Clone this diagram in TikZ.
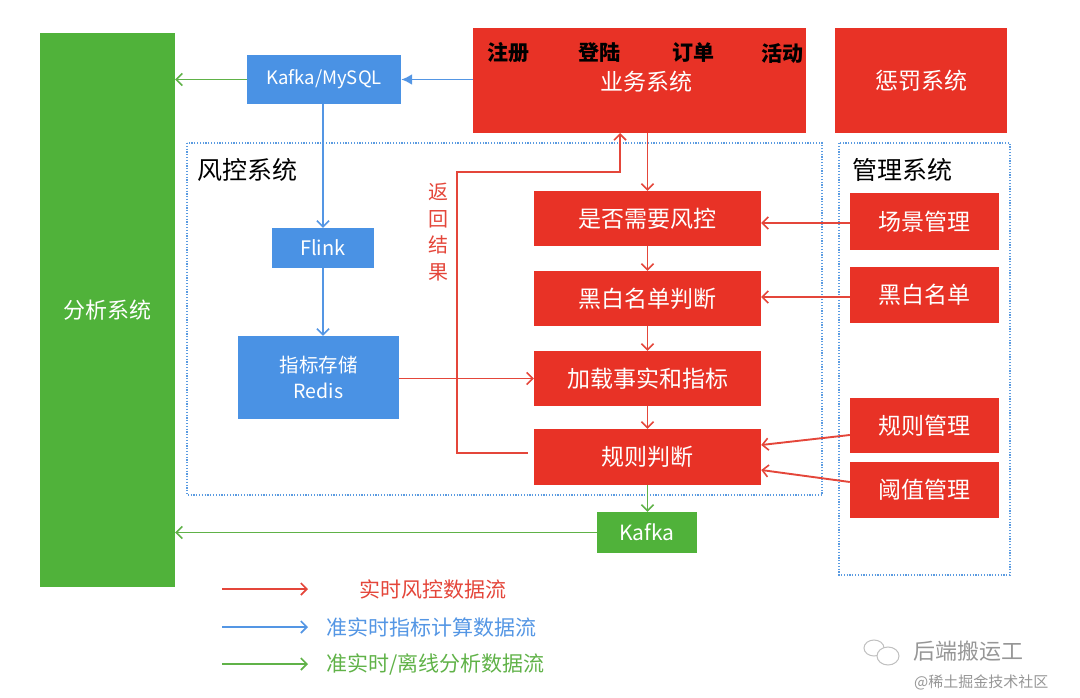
\documentclass[tikz,border=0pt]{standalone}
\usepackage{fontspec}
\setmainfont{Noto Sans CJK SC}
\usetikzlibrary{arrows.meta}
\definecolor{cred}{RGB}{232,50,38}
\definecolor{cblue}{RGB}{74,146,228}
\definecolor{cgreen}{RGB}{80,178,58}
\definecolor{lred}{RGB}{228,70,58}
\definecolor{lblue}{RGB}{84,150,228}
\definecolor{lgreen}{RGB}{96,178,72}
\definecolor{dotblue}{RGB}{90,155,225}
\definecolor{wm}{RGB}{150,150,150}
\tikzset{
  box/.style={inner sep=0pt, text=white, align=center},
  redbox/.style={box, fill=cred},
  bluebox/.style={box, fill=cblue},
  greenbox/.style={box, fill=cgreen},
  tip/.style={-{Straight Barb[length=6pt,width=12pt,line width=1.6pt]}},
  rarrow/.style={tip, draw=lred, line width=1.9pt},
  barrow/.style={tip, draw=lblue, line width=1.9pt},
  garrow/.style={tip, draw=lgreen, line width=1.9pt},
  dotframe/.style={draw=dotblue, line width=1.4pt, dash pattern=on 1.2pt off 1.6pt},
  legendtxt/.style={anchor=west, font=\fontsize{21}{24}\selectfont, inner sep=0pt},
}
\begin{document}
\begin{tikzpicture}[x=1pt,y=-1pt]
\useasboundingbox (0,0) rectangle (1080,698);
% frames
\draw[dotframe] (187,143) rectangle (822,495);
\draw[dotframe] (839,143) rectangle (1010,575);
\node[anchor=west, inner sep=0pt, font=\fontsize{25}{28}\selectfont] (fktitle) at (197,170) {风控系统};
\node[anchor=west, inner sep=0pt, font=\fontsize{25}{28}\selectfont] (gltitle) at (852,170) {管理系统};
% boxes
\node[greenbox, minimum width=135pt, minimum height=554pt, font=\fontsize{22}{24}\selectfont] (ana) at (107.5,310) {分析系统};
\node[bluebox, minimum width=154pt, minimum height=49pt, font=\fontsize{18.5}{20}\selectfont] (kmq) at (324,79.5) {Kafka/MySQL};
\node[redbox, minimum width=333pt, minimum height=105pt] (biz) at (639.5,80.5) {};
\node[font=\bfseries\fontsize{21}{24}\selectfont, inner sep=0pt] (t1) at (508,53) {注册};
\node[font=\bfseries\fontsize{21}{24}\selectfont, inner sep=0pt] (t2) at (599,53) {登陆};
\node[font=\bfseries\fontsize{21}{24}\selectfont, inner sep=0pt] (t3) at (693,53) {订单};
\node[font=\bfseries\fontsize{21}{24}\selectfont, inner sep=0pt] (t4) at (782,53) {活动};
\node[text=white, font=\fontsize{23}{26}\selectfont, inner sep=0pt] (bizt) at (646,82) {业务系统};
\node[redbox, minimum width=172pt, minimum height=105pt, font=\fontsize{23}{26}\selectfont] (pun) at (921,80.5) {惩罚系统};
\node[bluebox, minimum width=102pt, minimum height=40pt, font=\fontsize{20}{22}\selectfont] (flink) at (323,248) {Flink};
\node[bluebox, minimum width=161pt, minimum height=83pt, font=\fontsize{19.5}{26}\selectfont] (redis) at (318.5,377.5) {指标存储\\Redis};
\node[redbox, minimum width=227pt, minimum height=55pt, font=\fontsize{23}{26}\selectfont] (r1) at (647.5,218.5) {是否需要风控};
\node[redbox, minimum width=227pt, minimum height=55pt, font=\fontsize{23}{26}\selectfont] (r2) at (647.5,298.5) {黑白名单判断};
\node[redbox, minimum width=227pt, minimum height=55pt, font=\fontsize{23}{26}\selectfont] (r3) at (647.5,378.5) {加载事实和指标};
\node[redbox, minimum width=227pt, minimum height=56pt, font=\fontsize{23}{26}\selectfont] (r4) at (647.5,457) {规则判断};
\node[redbox, minimum width=149pt, minimum height=57pt, font=\fontsize{23}{26}\selectfont] (m1) at (924.5,221.5) {场景管理};
\node[redbox, minimum width=149pt, minimum height=56pt, font=\fontsize{23}{26}\selectfont] (m2) at (924.5,295) {黑白名单};
\node[redbox, minimum width=149pt, minimum height=55pt, font=\fontsize{23}{26}\selectfont] (m3) at (924.5,425.5) {规则管理};
\node[redbox, minimum width=149pt, minimum height=56pt, font=\fontsize{23}{26}\selectfont] (m4) at (924.5,490) {阈值管理};
\node[greenbox, minimum width=100pt, minimum height=41pt, font=\fontsize{21}{24}\selectfont] (kafka) at (647,532.5) {Kafka};
% connectors
\draw[garrow] (kmq.west) -- (kmq.west -| ana.east);
\draw[draw=lblue, line width=1.9pt, -{Latex[length=11pt,width=11pt]}] (biz.west |- kmq) -- (kmq.east);
\draw[barrow] (flink.north |- kmq.south) -- (flink.north);
\draw[barrow] (flink.south) -- (flink.south |- redis.north);
\draw[rarrow] (redis.east |- r3) -- (r3.west);
\draw[rarrow] (r1.north |- biz.south) -- (r1.north);
\draw[rarrow] (r1.south) -- (r2.north);
\draw[rarrow] (r2.south) -- (r3.north);
\draw[rarrow] (r3.south) -- (r4.north);
\draw[garrow] (r4.south) -- (r4.south |- kafka.north);
\draw[garrow] (kafka.west) -- (kafka.west -| ana.east);
\coordinate (rc1) at (457,172);
\coordinate (rc2) at (620,133);
\draw[rarrow] ([xshift=-6pt,yshift=4pt]r4.west) -| (rc1) -| (rc2);
\node[text=lred, align=center, inner sep=0pt, font=\fontsize{20}{26.7}\selectfont] (ret) at (438,232) {返\\回\\结\\果};
\draw[rarrow] ([yshift=-1.5pt]m1.west) -- ([yshift=-1.5pt]m1.west -| r1.east);
\draw[rarrow] ([yshift=-2pt]m2.west) -- ([yshift=-2pt]m2.west -| r2.east);
\draw[rarrow] ([yshift=-9.5pt]m3.west) -- ([yshift=12pt]r4.east);
\draw[rarrow] ([yshift=8pt]m4.west) -- ([yshift=-13pt]r4.east);
% legend
\coordinate (la1) at (222,589); \coordinate (lb1) at (308,589);
\coordinate (la2) at (222,627); \coordinate (lb2) at (308,627);
\coordinate (la3) at (222,664); \coordinate (lb3) at (308,664);
\draw[rarrow] (la1) -- (lb1);
\draw[barrow] (la2) -- (lb2);
\draw[garrow] (la3) -- (lb3);
\node[legendtxt, text=lred] (lt1) at (359,589) {实时风控数据流};
\node[legendtxt, text=lblue] (lt2) at (326,627) {准实时指标计算数据流};
\node[legendtxt, text=lgreen] (lt3) at (326,664) {准实时/离线分析数据流};
% watermark
\draw[wm!60, line width=1pt] (874,648) ellipse (10pt and 8pt);
\draw[wm!60, line width=1pt, fill=white] (888,656) ellipse (11pt and 9pt);
\node[text=wm, anchor=west, inner sep=0pt, font=\fontsize{22}{24}\selectfont] (wm1) at (913,651) {后端搬运工};
\node[text=wm, anchor=west, inner sep=0pt, font=\fontsize{15}{17}\selectfont] (wm2) at (914,682) {@稀土掘金技术社区};
\end{tikzpicture}
\end{document}
